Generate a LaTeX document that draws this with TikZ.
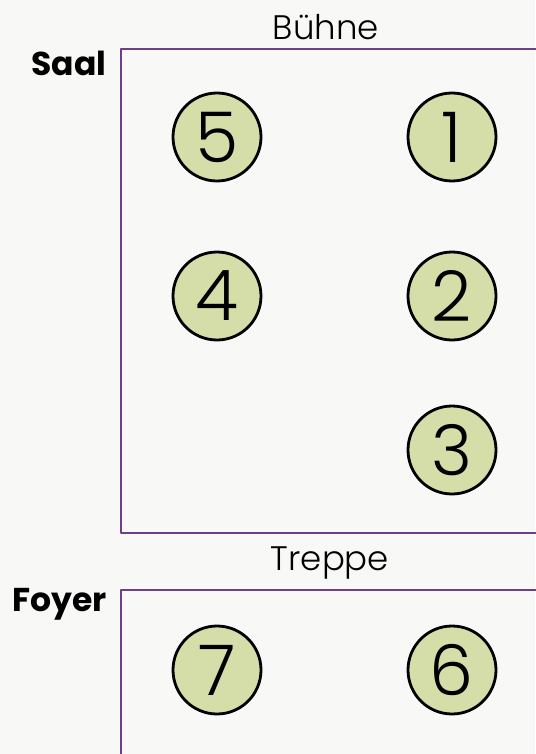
\documentclass[tikz,border=0pt]{standalone}
\usepackage{fontspec}
\setmainfont{Poppins}[UprightFont=* Light, BoldFont=* Bold]
\definecolor{roomline}{HTML}{6E3F86}
\definecolor{seatfill}{HTML}{D5DDA8}
\definecolor{paper}{HTML}{F8F8F6}
\tikzset{
  seat/.style={circle, draw=black, line width=2.8pt, fill=seatfill,
    minimum size=88pt, inner sep=0pt, font=\fontsize{70}{70}\selectfont},
  room/.style={draw=roomline, line width=2.6pt},
  roomname/.style={anchor=east, font=\bfseries\fontsize{33}{33}\selectfont},
  side/.style={font=\fontsize{34}{34}\selectfont}
}
\begin{document}
\begin{tikzpicture}[x=1pt, y=-1pt, line cap=round, line join=round]
    \fill[paper] (0,0) rectangle (535,754);
    \useasboundingbox (0,0) rectangle (535,754);
    % Saal
    \draw[room] (540,49) -- (121,49) -- (121,533) -- (540,533);
    \node[roomname] (saal) at (110,63) {Saal};
    \node[side] (buehne) at (326,27) {Bühne};
    \node[seat] (s5) at (217,137) {5};
    \node[seat] (s1) at (452,137) {1};
    \node[seat] (s4) at (217,296) {4};
    \node[seat] (s2) at (452,296) {2};
    \node[seat] (s3) at (452,450) {3};
    % Foyer
    \draw[room] (540,590) -- (121,590) -- (121,760);
    \node[roomname] (foyer) at (110,604) {Foyer};
    \node[side] (treppe) at (330,563) {Treppe};
    \node[seat] (s7) at (217,670) {7};
    \node[seat] (s6) at (452,670) {6};
  \end{tikzpicture}
\end{document}
